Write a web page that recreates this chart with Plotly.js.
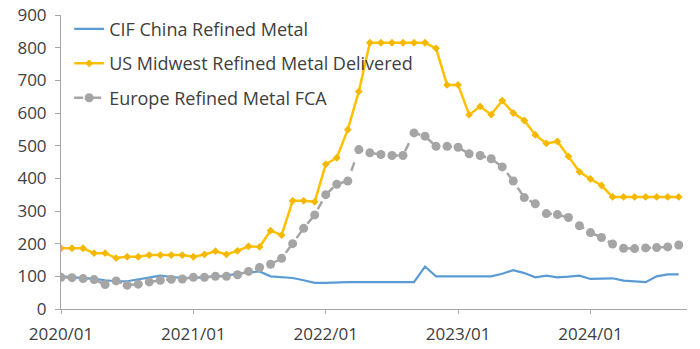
<!DOCTYPE html>
<html>
<head>
<meta charset="utf-8">
<script src="https://cdn.plot.ly/plotly-3.0.1.min.js"></script>
<style>html,body{margin:0;padding:0;background:#fff;}#chart{width:700px;height:349px;}</style>
</head>
<body>
<div id="chart"></div>
<script>
// Month labels 2020/01 .. 2024/09
const months = [];
for (let y = 2020; y <= 2024; y++) {
  for (let m = 1; m <= 12; m++) {
    if (y === 2024 && m > 9) break;
    months.push(y + '/' + String(m).padStart(2, '0'));
  }
}
const tickLabels = ['2020/01', '2021/01', '2022/01', '2023/01', '2024/01'];

const cifChina = [100, 98, 95, 92, 88, 85, 85, 90, 95, 102, 98, 95,
  95, 97, 100, 102, 108, 112, 115, 100, 97, 95, 88, 80,
  80, 82, 82, 82, 82, 82, 82, 82, 82, 130, 100, 100,
  100, 100, 100, 100, 108, 119, 110, 97, 102, 97, 99, 102,
  92, 93, 94, 87, 85, 82, 100, 106, 106];

const usMidwest = [186, 186, 186, 171, 171, 156, 160, 160, 165, 165, 165, 165,
  160, 167, 177, 167, 178, 192, 190, 240, 226, 331, 331, 328,
  443, 463, 549, 666, 815, 815, 815, 815, 815, 815, 798, 686,
  686, 595, 620, 595, 638, 600, 577, 533, 507, 513, 467, 420,
  398, 378, 343, 343, 343, 343, 343, 343, 343];

const europeFCA = [97, 96, 93, 90, 75, 86, 73, 76, 83, 88, 91, 92,
  97, 97, 100, 100, 105, 115, 127, 137, 155, 200, 247, 288,
  350, 382, 392, 488, 478, 473, 470, 470, 539, 529, 498, 498,
  495, 475, 470, 460, 435, 392, 341, 322, 292, 289, 280, 255,
  234, 219, 199, 186, 185, 187, 188, 190, 196];

const xIdx = months.map((_, i) => i);
const tickIdx = tickLabels.map(t => months.indexOf(t));

const font = 'Open Sans, Liberation Sans, sans-serif';
const txt = '#404040';
const axisCol = '#a6a6a6';

const traces = [
  {
    x: xIdx, y: cifChina, name: 'CIF China Refined Metal', type: 'scatter', mode: 'lines',
    line: {color: '#5b9bd5', width: 2.2}, legendgroup: 'a'
  },
  {
    x: xIdx, y: usMidwest, name: 'US Midwest Refined Metal Delivered', type: 'scatter', mode: 'lines+markers',
    line: {color: '#ffc000', width: 2.5}, marker: {color: '#f5b800', size: 6, symbol: 'diamond'}, legendgroup: 'b'
  },
  {
    x: xIdx, y: europeFCA, name: 'Europe Refined Metal FCA', type: 'scatter', mode: 'lines+markers',
    line: {color: '#a5a5a5', width: 2.5, dash: 'dash'}, marker: {color: '#a5a5a5', size: 9, symbol: 'circle'}, legendgroup: 'c'
  }
];

const layout = {
  width: 700, height: 349,
  margin: {l: 61, r: 13, t: 14, b: 40},
  paper_bgcolor: '#fff', plot_bgcolor: '#fff',
  font: {family: font, size: 18, color: txt},
  showlegend: true,
  legend: {
    x: 0.013, y: 1.011, xanchor: 'left', yanchor: 'top',
    bgcolor: 'rgba(255,255,255,0)', font: {family: font, size: 18, color: txt},
    tracegroupgap: 8, traceorder: 'grouped'
  },
  xaxis: {
    range: [0, 56.75], tickmode: 'array', tickvals: tickIdx, ticktext: tickLabels,
    showgrid: false, zeroline: false, showline: true, linecolor: axisCol, linewidth: 1,
    ticks: 'outside', ticklen: 4, tickcolor: axisCol,
    tickfont: {family: font, size: 17, color: txt}, ticklabelstandoff: 6
  },
  yaxis: {
    range: [0, 900], dtick: 100, tick0: 0,
    showgrid: false, zeroline: false, showline: true, linecolor: axisCol, linewidth: 1,
    ticks: 'outside', ticklen: 5, tickcolor: axisCol,
    tickfont: {family: font, size: 17, color: txt}, ticklabelstandoff: 5
  }
};

Plotly.newPlot('chart', traces, layout, {displayModeBar: false, staticPlot: true});
</script>
</body>
</html>
